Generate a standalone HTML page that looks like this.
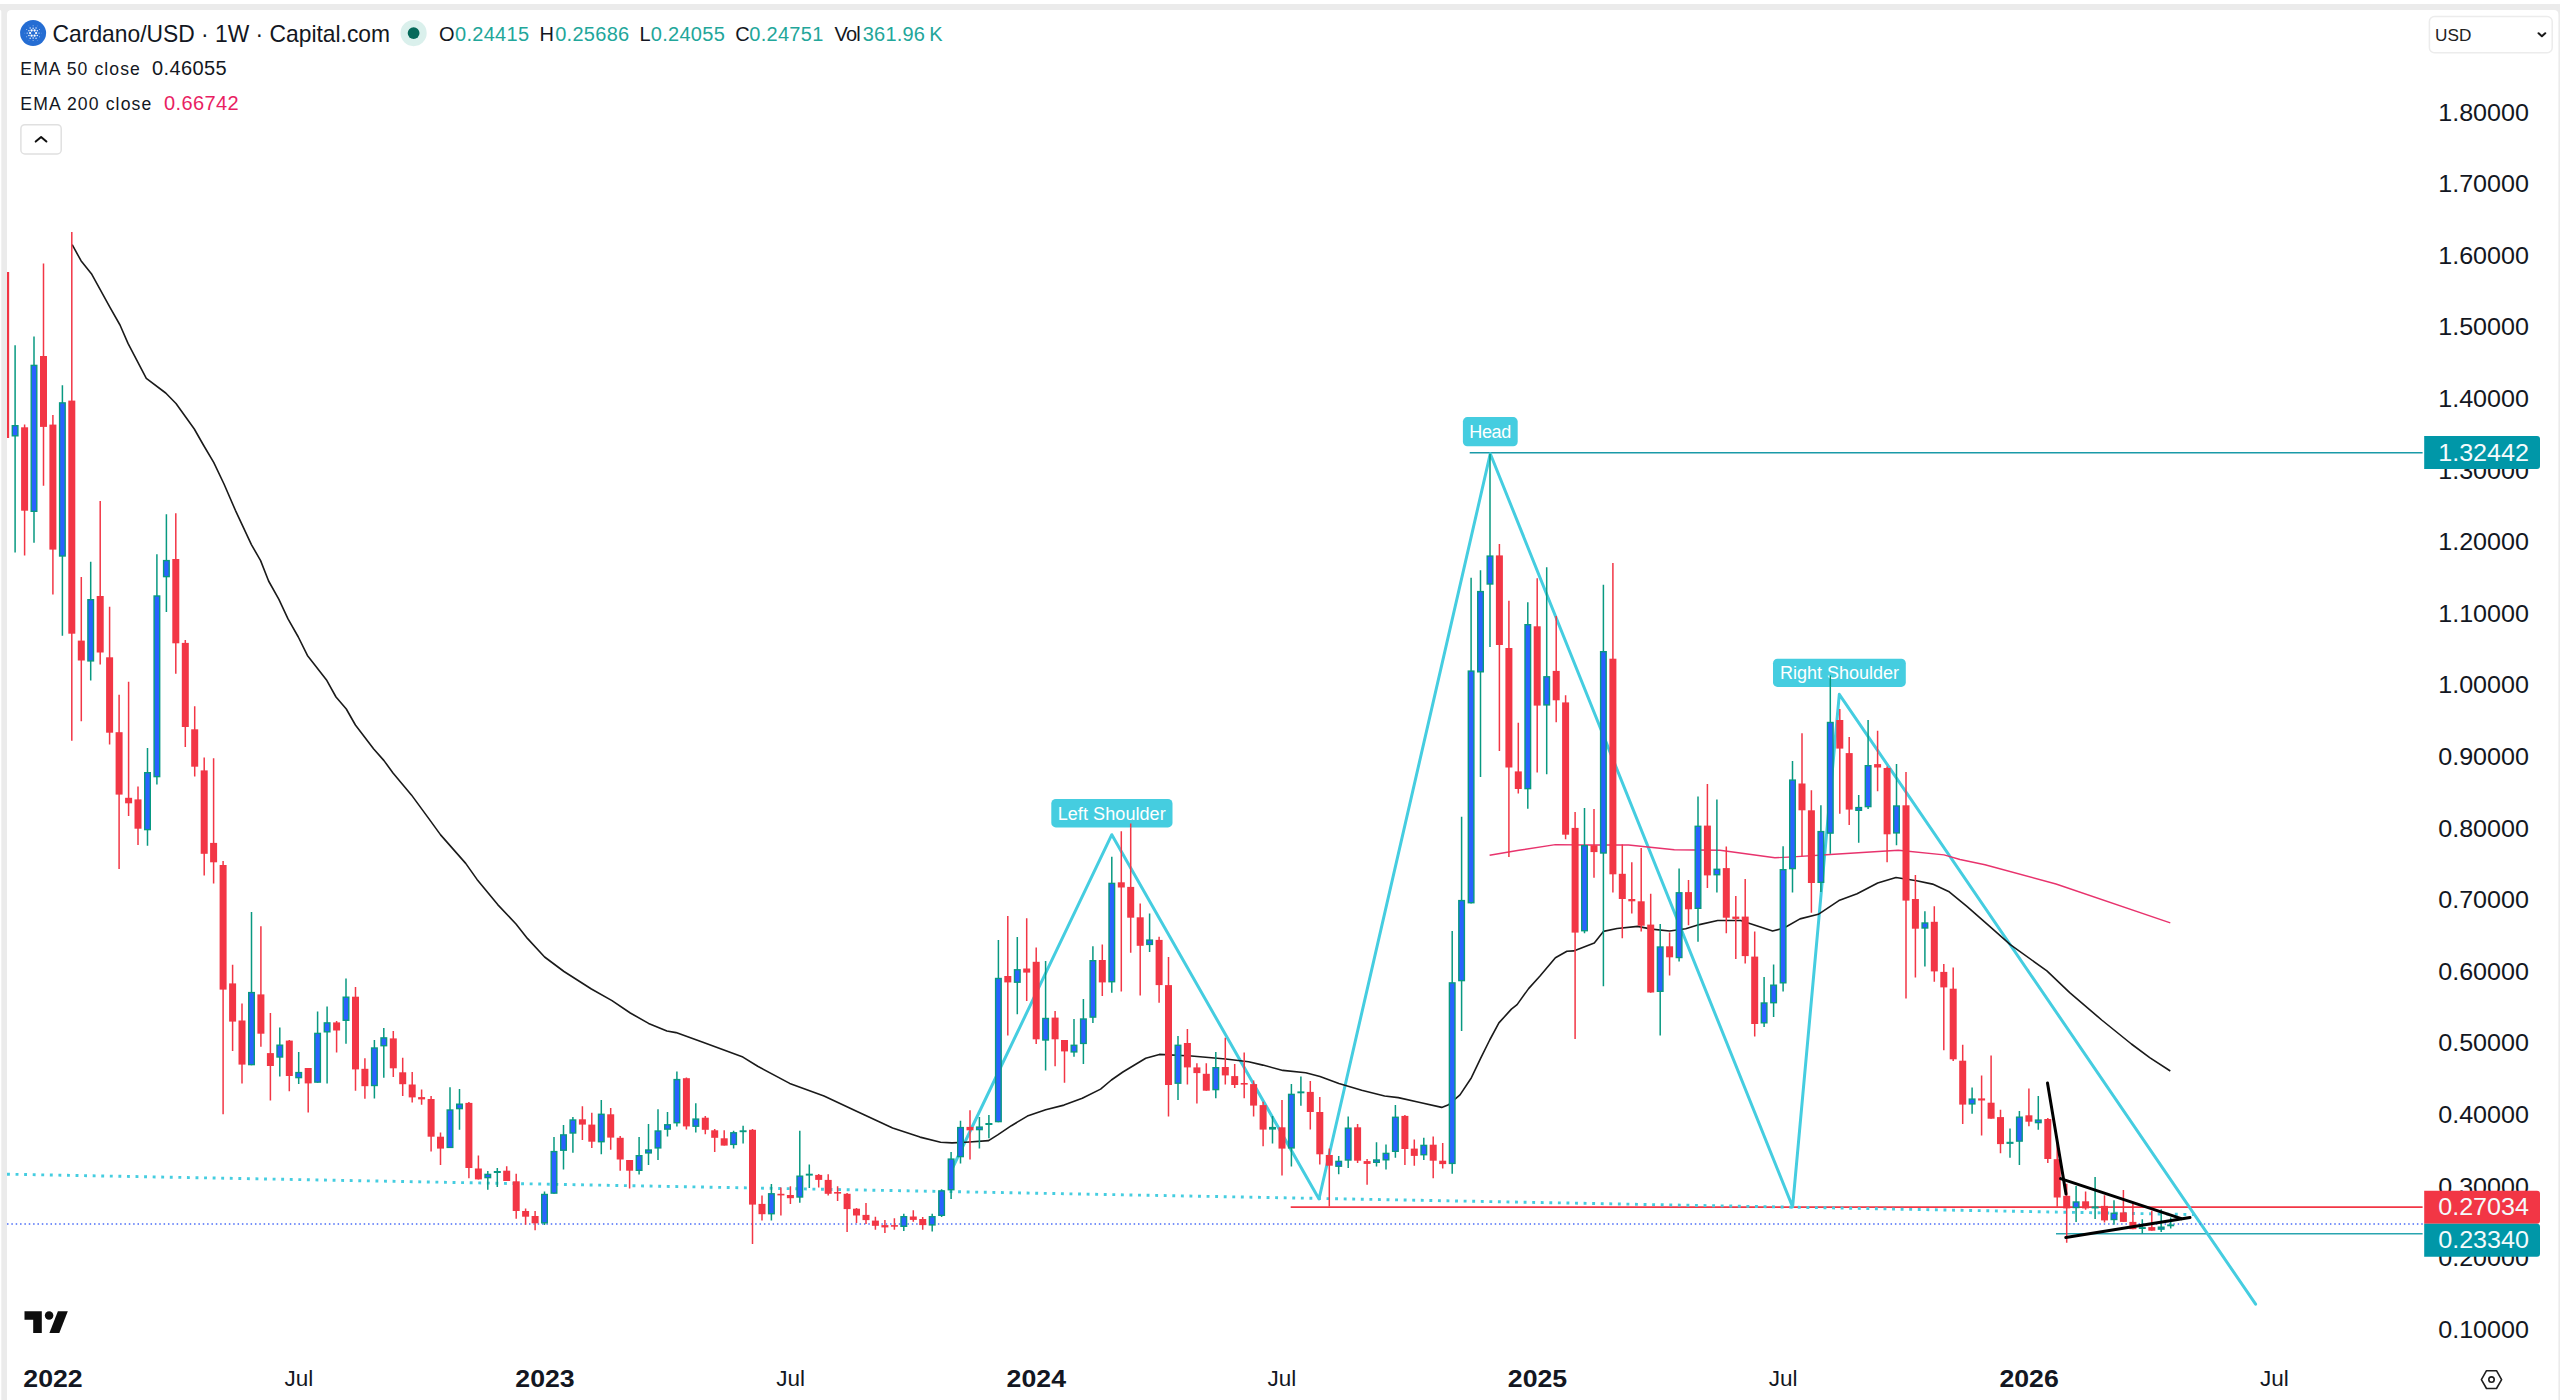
<!DOCTYPE html>
<html lang="en"><head><meta charset="utf-8"><title>Cardano/USD · 1W · Capital.com</title>
<style>html,body{margin:0;padding:0;background:#fff;}body{width:2560px;height:1400px;overflow:hidden;position:relative;font-family:"Liberation Sans",sans-serif;}svg{position:absolute;left:0;top:0;display:block}text{font-family:"Liberation Sans",sans-serif}</style>
</head><body>
<svg width="2560" height="1400" viewBox="0 0 2560 1400">
<rect x="0" y="0" width="2560" height="1400" fill="#ffffff"/>
<rect x="0" y="4" width="2560" height="1396" fill="#ebebeb"/>
<path d="M0 10 H0.2 Q1.3 10 1.3 11.5 V1400 H0 Z" fill="#ffffff"/>
<path d="M7 1400 V14.5 Q7 10 11.5 10 H2554 Q2558.4 10 2558.4 14.5 V1400 Z" fill="#ffffff"/>
<defs><clipPath id="cp"><rect x="7" y="10" width="2417" height="1340"/></clipPath></defs>
<g clip-path="url(#cp)">
<line x1="1469.7" y1="452.8" x2="2422.6" y2="452.8" stroke="#1a9aa8" stroke-width="1.5"/>
<line x1="1290.7" y1="1207.1" x2="2422.6" y2="1207.1" stroke="#f23645" stroke-width="1.6"/>
<line x1="2056" y1="1233.8" x2="2422.6" y2="1233.8" stroke="#2aa5b0" stroke-width="1.6"/>
<polyline points="953,1167 1111.8,834.7 1319,1199 1490.3,453.7 1792.6,1206.9 1839.3,694.3 2255.6,1304.2" fill="none" stroke="#45cde0" stroke-width="3" stroke-linejoin="round" stroke-linecap="round"/>
<line x1="7" y1="1174.2" x2="2194" y2="1214.6" stroke="#45cde0" stroke-width="2.9" stroke-dasharray="2.9 5.67"/>
<line x1="7" y1="1223.9" x2="2424" y2="1223.9" stroke="#4a6cf7" stroke-width="1.5" stroke-dasharray="1.5 2.85"/>
<polyline points="1489.6,855.3 1518.9,850.3 1555.4,844.6 1582.9,845 1628.6,845 1674.3,849.8 1720,850.3 1774.9,857.8 1788.6,857.1 1834.3,854.2 1898.3,850.3 1944,854.9 1960,859.5 1985,864.7 2056,884 2170.3,922.9" fill="none" stroke="#e8336d" stroke-width="1.4" stroke-linejoin="round"/>
<polyline points="72.2,244.7 81,260.7 91.4,273.7 109.7,306.9 120,325 128,343.4 146.3,378.4 165.7,393 176,403.5 194.3,429 203.4,445 213.7,462.3 224,484 235.4,510.3 251.4,544.6 260.6,560.6 268.6,581 278.9,599.4 288,618.9 298.3,637 307.4,655.4 326.9,680.6 336,697 346.3,709 355.4,725 373.7,749 384,760.6 393,773 411.4,794.9 429,818.9 440.6,834.9 465.7,863.4 477,879.4 497.7,904.6 516,924 527.4,938.4 544.6,957 564,971.5 591.4,989 612,1000.6 630.3,1013 648.6,1023.4 666.9,1031 676,1032.6 702.9,1042.3 742.9,1057.1 757.7,1066.3 789.7,1083.4 824,1096 856,1110.9 892.6,1128 920,1137.1 940.6,1142.2 952,1142.9 965.7,1142.2 988.6,1140.6 997.7,1134.9 1011.4,1125.7 1027.4,1116.1 1045.7,1109.7 1064,1105.1 1082.3,1098.3 1100.6,1089.1 1111.4,1080 1122.9,1072 1145.7,1058.3 1159.4,1054.4 1191.4,1056 1225.7,1059 1248.6,1061.7 1262.9,1065.1 1282.9,1070.4 1305.7,1072.7 1320,1076.6 1338.9,1083.4 1361.7,1090.3 1384.6,1096 1398.3,1097.6 1418.9,1102.2 1441.7,1107.4 1448.6,1104.7 1460,1094.9 1471.4,1077.7 1480.6,1058.3 1489.7,1040 1498.9,1022.9 1511.4,1009.1 1517.1,1004.6 1528.6,988.6 1540,976 1555.4,957.7 1566.9,951.3 1573.7,950.9 1594.3,942.9 1603.4,931.4 1617.1,928.5 1637.7,926.4 1651.4,929.1 1669.7,931 1685.7,928.7 1699.4,924.6 1717.7,920.5 1740.6,920.5 1756.6,925.7 1772.6,931 1784,928 1800,918.9 1818.3,914.3 1838.9,900.6 1857.1,893.7 1877.7,883 1896,877.5 1916.6,880.7 1932.6,884.1 1948.6,891.4 1966.9,906.3 1989.7,926.3 2010.3,944.6 2046.9,970.9 2069.7,992.6 2101.7,1020 2131.4,1044 2149.7,1057.7 2170.3,1071" fill="none" stroke="#1a1a1a" stroke-width="1.6" stroke-linejoin="round"/>
<rect x="2.15" y="272" width="7" height="166" fill="#f23645"/>
<path d="M24.6 424.6V555.5M43.5 263.4V485.8M52.9 415V594.4M71.8 232.1V740.7M81.3 577V721.3M100.2 501V664.6M109.6 606.7V744.6M119.1 694.7V869.1M128.6 681.7V815.9M138 786.4V845.1M175.8 513.3V673.7M185.3 640V746.9M194.7 706.2V776.6M204.2 757.6V875.5M213.6 758.3V883.5M223.1 861V1114.3M232.6 964.7V1050.9M242 1003.5V1083.5M260.9 926.3V1046.7M270.4 1013.1V1100.6M289.3 1040V1091.3M308.2 1068V1112.5M336.6 1021V1052.6M355.5 986.9V1090.8M364.9 1058.3V1098.8M393.3 1031V1077M402.7 1057.8V1096M412.2 1072V1102.4M421.6 1089.6V1104.7M431.1 1096V1151.5M440.5 1132.6V1165M468.9 1102V1178.3M478.4 1155.4V1179.4M506.7 1166.2V1181M516.2 1173.7V1218.7M525.6 1208.5V1224.7M535.1 1211V1230.2M582.4 1106.3V1139.9M591.8 1112.7V1147.9M610.7 1108.1V1149.7M620.2 1136V1170.7M629.6 1160V1188.6M686.4 1077.5V1129.6M705.3 1116V1134.2M714.7 1129V1152M724.2 1130.3V1145.6M752.5 1129V1244.1M762 1195.4V1220.6M780.9 1187.4V1215.5M790.4 1186.3V1204.1M818.7 1174V1187.4M828.2 1174.2V1195.4M837.6 1186.3V1201.1M847.1 1193V1232M856.5 1208V1222.9M866 1203V1224M875.4 1216.7V1229.7M884.9 1220.1V1233.1M894.4 1218.3V1229.7M913.3 1210.3V1221.7M922.7 1217.1V1229.7M970 1110.2V1159.5M1007.8 916.1V1035.4M1026.7 918.2V1001.1M1036.2 947.4V1043.9M1055.1 1011V1066.3M1064.5 1040V1082.7M1102.3 944.5V996.1M1121.3 831.3V991.5M1130.7 823.5V952.7M1140.2 903.5V995.4M1159.1 936.7V1002.7M1168.5 957V1116.6M1187.4 1029V1084.6M1196.9 1063.3V1103.5M1206.3 1063.3V1090.7M1225.3 1037.7V1084.6M1234.7 1064V1088M1244.2 1052.6V1098.3M1253.6 1080.5V1116.6M1263.1 1101.7V1146.3M1282 1100.1V1175.5M1310.3 1081.1V1129.6M1319.8 1097.1V1164.6M1329.3 1148.6V1206.4M1357.6 1124.1V1163M1367.1 1158.9V1184.7M1404.9 1115V1165M1414.3 1139.4V1165.7M1433.2 1136.5V1178.3M1442.7 1142.9V1168.5M1499.4 544V750.9M1508.9 600.7V857.1M1518.3 722.7V793.6M1537.2 578.3V772.6M1556.2 616V722.3M1565.6 695.3V839.3M1575.1 811.9V1038.9M1594 809.1V877.7M1612.9 563V892.6M1622.3 844.6V938.3M1631.8 862.2V913.6M1641.2 848V931.4M1650.7 893.7V992.7M1669.6 932.6V975.5M1688.5 880V925.3M1707.4 784V888M1726.3 846.4V933.3M1735.8 896V958.9M1745.2 878.9V963.4M1754.7 931.4V1036.6M1802 733.3V856.5M1811.4 790.2V912.7M1839.8 709V813.7M1849.2 737.1V825.1M1877.6 730.7V791.3M1887.1 766.4V862.2M1906 771.9V998.4M1915.4 875V977.4M1934.3 906.3V981.7M1943.8 964.1V1050.2M1953.2 967.4V1061.1M1962.7 1044.7V1124M1981.6 1075.5V1135.4M1991.1 1055.4V1118.7M2000.5 1109.8V1153.3M2028.9 1088.6V1126.3M2047.8 1118V1162.9M2057.2 1140.9V1206.7M2066.7 1183.8V1242.7M2085.6 1191.5V1209.8M2104.5 1195.2V1222.5M2123.4 1189.9V1221.9M2132.9 1203.8V1229.2M2151.8 1210.7V1230.7" stroke="#f23645" stroke-width="1.5" fill="none"/>
<path d="M15.1 345.3V552.6M34 336.6V542.7M62.4 385.3V635.8M90.7 561.7V680.6M147.5 748V845.8M156.9 554.2V784.6M166.4 514.2V612M251.5 912.1V1065.3M279.8 1027.5V1076.5M298.7 1052V1084M317.6 1011.4V1082.8M327.1 1006.4V1083.4M346 978.4V1043.7M374.4 1040V1098.6M383.8 1028V1077.7M450 1087.3V1148.1M459.5 1089.1V1129.8M487.8 1171V1189.7M497.3 1168V1187M544.5 1191.5V1225M554 1137.1V1193.8M563.5 1125V1169.6M572.9 1117V1152.7M601.3 1100.1V1154.3M639.1 1137.1V1174.4M648.5 1124.1V1165M658 1109.3V1160M667.5 1112V1136.5M676.9 1071.5V1126.4M695.8 1103.3V1132.6M733.6 1130.7V1148.6M743.1 1125.7V1143.5M771.4 1184V1220.6M799.8 1130.7V1202.7M809.3 1164.6V1187.9M903.8 1213.7V1230.9M932.2 1213.7V1231.5M941.6 1189.3V1217.1M951.1 1152V1198.9M960.5 1120.7V1163.4M979.4 1117V1148.6M988.9 1115V1138.3M998.4 940.1V1122.3M1017.3 937.1V1014.2M1045.6 961.1V1070.4M1074 1019V1056.7M1083.4 998.9V1064M1092.9 946.3V1022.9M1111.8 856.7V992.7M1149.6 913.6V952M1178 1036.1V1099.9M1215.8 1052.1V1098.3M1272.5 1116.1V1143.5M1291.4 1084.1V1166.4M1300.9 1076.6V1105.8M1338.7 1156.1V1174.2M1348.2 1116.6V1168M1376.5 1142.2V1166.4M1386 1144.5V1169.6M1395.4 1105.1V1157.7M1423.8 1137.8V1160M1452.2 931V1173.7M1461.6 816.7V1030.9M1471.1 577.8V903.4M1480.5 570.3V777.1M1490 453.7V646.9M1527.8 602.3V808.7M1546.7 567.3V774.2M1584.5 808V933.3M1603.4 584.7V986.3M1660.2 923.9V1035.4M1679.1 868.6V961.6M1698 796.6V941.7M1716.9 799.5V892.6M1764.1 977.1V1027M1773.6 964.6V1017.1M1783.1 846.2V991.5M1792.5 761.1V892.6M1820.9 805.3V892.1M1830.3 675.4V853.7M1858.7 795V842.7M1868.1 720V809.1M1896.5 764.1V845.3M1924.9 911.3V966.4M1972.1 1087.4V1113.7M2010 1128.6V1157.8M2019.4 1111V1165.1M2038.3 1096.1V1129.7M2076.1 1186.1V1221.9M2095.1 1176.9V1219M2114 1200.2V1224.8M2142.3 1219.3V1233.6M2161.2 1209.3V1231.9M2170.7 1217.6V1228.4" stroke="#089981" stroke-width="1.5" fill="none"/>
<g fill="#f23645"><rect x="21.1" y="427.3" width="7" height="83.4"/><rect x="40" y="356" width="7" height="70.9"/><rect x="49.4" y="424.6" width="7" height="125"/><rect x="68.3" y="400.6" width="7" height="233.1"/><rect x="77.8" y="640.6" width="7" height="19.9"/><rect x="96.7" y="596" width="7" height="56.5"/><rect x="106.1" y="657.3" width="7" height="75.4"/><rect x="115.6" y="732.2" width="7" height="62.4"/><rect x="125.1" y="797.8" width="7" height="5.5"/><rect x="134.5" y="799.4" width="7" height="29.3"/><rect x="172.3" y="559" width="7" height="84.3"/><rect x="181.8" y="642.9" width="7" height="84.1"/><rect x="191.2" y="729.3" width="7" height="37.4"/><rect x="200.7" y="770.4" width="7" height="83.4"/><rect x="210.1" y="842.9" width="7" height="19.4"/><rect x="219.6" y="865" width="7" height="124.6"/><rect x="229.1" y="983.4" width="7" height="38.2"/><rect x="238.5" y="1020.5" width="7" height="44.1"/><rect x="257.4" y="994.4" width="7" height="39.3"/><rect x="266.9" y="1053.1" width="7" height="12.9"/><rect x="285.8" y="1040.6" width="7" height="35.4"/><rect x="304.7" y="1068" width="7" height="15.4"/><rect x="333.1" y="1022.4" width="7" height="8.1"/><rect x="352" y="996.7" width="7" height="72.7"/><rect x="361.4" y="1068.8" width="7" height="17.4"/><rect x="389.8" y="1038.4" width="7" height="29.9"/><rect x="399.2" y="1072.3" width="7" height="11.9"/><rect x="408.7" y="1084.5" width="7" height="12.9"/><rect x="418.1" y="1097.1" width="7" height="2.3"/><rect x="427.6" y="1099" width="7" height="37.7"/><rect x="437" y="1136.7" width="7" height="11.9"/><rect x="465.4" y="1102.9" width="7" height="65.1"/><rect x="474.9" y="1168.5" width="7" height="10.9"/><rect x="503.2" y="1170.7" width="7" height="10.3"/><rect x="512.7" y="1181.3" width="7" height="29.7"/><rect x="522.1" y="1211" width="7" height="5.7"/><rect x="531.6" y="1216" width="7" height="7.3"/><rect x="578.9" y="1119.3" width="7" height="5.3"/><rect x="588.3" y="1124.6" width="7" height="17.1"/><rect x="607.2" y="1114.3" width="7" height="23.3"/><rect x="616.7" y="1137.8" width="7" height="21.7"/><rect x="626.1" y="1160" width="7" height="10.7"/><rect x="682.9" y="1078.2" width="7" height="48.2"/><rect x="701.8" y="1117.7" width="7" height="12.1"/><rect x="711.2" y="1130.3" width="7" height="7.5"/><rect x="720.7" y="1138.3" width="7" height="7.3"/><rect x="749" y="1129.8" width="7" height="74.8"/><rect x="758.5" y="1203.9" width="7" height="10.3"/><rect x="777.4" y="1193.8" width="7" height="1.6"/><rect x="786.9" y="1195" width="7" height="3.2"/><rect x="815.2" y="1174.9" width="7" height="5"/><rect x="824.7" y="1179.9" width="7" height="13.9"/><rect x="834.1" y="1192" width="7" height="1.6"/><rect x="843.6" y="1193.8" width="7" height="15.3"/><rect x="853" y="1208.7" width="7" height="6.8"/><rect x="862.5" y="1214.9" width="7" height="5.2"/><rect x="871.9" y="1220.6" width="7" height="5.2"/><rect x="881.4" y="1225.1" width="7" height="2.3"/><rect x="890.9" y="1225.1" width="7" height="1.6"/><rect x="909.8" y="1216.5" width="7" height="3.4"/><rect x="919.2" y="1219" width="7" height="6.1"/><rect x="966.5" y="1126.9" width="7" height="3.4"/><rect x="1004.3" y="976" width="7" height="6.4"/><rect x="1023.2" y="968.5" width="7" height="4.1"/><rect x="1032.7" y="961.8" width="7" height="77.5"/><rect x="1051.6" y="1017.6" width="7" height="21.7"/><rect x="1061" y="1040" width="7" height="11.4"/><rect x="1098.8" y="960" width="7" height="22.4"/><rect x="1117.8" y="882.3" width="7" height="5.2"/><rect x="1127.2" y="886.9" width="7" height="30.8"/><rect x="1136.7" y="917.3" width="7" height="28.5"/><rect x="1155.6" y="939.9" width="7" height="45.2"/><rect x="1165" y="985.1" width="7" height="99.9"/><rect x="1183.9" y="1043" width="7" height="24.4"/><rect x="1193.4" y="1067.4" width="7" height="5.7"/><rect x="1202.8" y="1073.8" width="7" height="16.9"/><rect x="1221.8" y="1067" width="7" height="8.4"/><rect x="1231.2" y="1076.1" width="7" height="8.9"/><rect x="1240.7" y="1083" width="7" height="1.6"/><rect x="1250.1" y="1084.1" width="7" height="21.5"/><rect x="1259.6" y="1105.1" width="7" height="24.5"/><rect x="1278.5" y="1127.3" width="7" height="21.3"/><rect x="1306.8" y="1091.9" width="7" height="20.1"/><rect x="1316.3" y="1112" width="7" height="42.3"/><rect x="1325.8" y="1155" width="7" height="10.7"/><rect x="1354.1" y="1127.3" width="7" height="33.4"/><rect x="1363.6" y="1161.1" width="7" height="2.8"/><rect x="1401.4" y="1115.9" width="7" height="33.1"/><rect x="1410.8" y="1148.6" width="7" height="7.3"/><rect x="1429.7" y="1144.7" width="7" height="16"/><rect x="1439.2" y="1160.7" width="7" height="3.4"/><rect x="1495.9" y="555.4" width="7" height="89.6"/><rect x="1505.4" y="648" width="7" height="119.5"/><rect x="1514.8" y="771.4" width="7" height="17.6"/><rect x="1533.7" y="626.3" width="7" height="79.3"/><rect x="1552.7" y="670.9" width="7" height="29.4"/><rect x="1562.1" y="702.4" width="7" height="132.3"/><rect x="1571.6" y="827.9" width="7" height="104.7"/><rect x="1590.5" y="845.3" width="7" height="6.8"/><rect x="1609.4" y="658.7" width="7" height="215.6"/><rect x="1618.8" y="873.8" width="7" height="25.2"/><rect x="1628.3" y="899" width="7" height="2.3"/><rect x="1637.7" y="901.3" width="7" height="24.4"/><rect x="1647.2" y="924.6" width="7" height="67.9"/><rect x="1666.1" y="946.3" width="7" height="11"/><rect x="1685" y="892.1" width="7" height="17.2"/><rect x="1703.9" y="825.6" width="7" height="49.8"/><rect x="1722.8" y="868.1" width="7" height="49.6"/><rect x="1732.3" y="916.6" width="7" height="2.3"/><rect x="1741.7" y="916.6" width="7" height="39.5"/><rect x="1751.2" y="956.6" width="7" height="67.4"/><rect x="1798.5" y="783.5" width="7" height="26.8"/><rect x="1807.9" y="810.3" width="7" height="72.7"/><rect x="1836.3" y="720" width="7" height="28.6"/><rect x="1845.7" y="753.1" width="7" height="56.5"/><rect x="1874.1" y="764.1" width="7" height="3.4"/><rect x="1883.6" y="768" width="7" height="66.3"/><rect x="1902.5" y="805.3" width="7" height="95.3"/><rect x="1911.9" y="899" width="7" height="29.7"/><rect x="1930.8" y="921.8" width="7" height="49.6"/><rect x="1940.3" y="971.9" width="7" height="15.5"/><rect x="1949.7" y="988.7" width="7" height="70.6"/><rect x="1959.2" y="1060.7" width="7" height="43.9"/><rect x="1978.1" y="1098.4" width="7" height="2.1"/><rect x="1987.6" y="1102.7" width="7" height="16"/><rect x="1997" y="1117.1" width="7" height="27"/><rect x="2025.4" y="1115.3" width="7" height="6.4"/><rect x="2044.3" y="1119" width="7" height="40"/><rect x="2053.7" y="1159.2" width="7" height="38.3"/><rect x="2063.2" y="1195.8" width="7" height="12.6"/><rect x="2082.1" y="1201.3" width="7" height="7.1"/><rect x="2101" y="1205.9" width="7" height="14.5"/><rect x="2119.9" y="1212.4" width="7" height="9.5"/><rect x="2129.4" y="1221.9" width="7" height="7.3"/><rect x="2148.3" y="1227.1" width="7" height="3.6"/></g>
<g fill="#2962ff" stroke="#089981" stroke-width="1.4"><rect x="12.3" y="425.7" width="5.6" height="10.1"/><rect x="31.2" y="365.4" width="5.6" height="145.9"/><rect x="59.6" y="402.9" width="5.6" height="153.1"/><rect x="87.9" y="599.7" width="5.6" height="61.2"/><rect x="144.7" y="772.7" width="5.6" height="56.9"/><rect x="154.1" y="596" width="5.6" height="180.6"/><rect x="163.6" y="560.6" width="5.6" height="16"/><rect x="248.7" y="992.6" width="5.6" height="72"/><rect x="277" y="1045.2" width="5.6" height="11.8"/><rect x="295.9" y="1072.6" width="5.6" height="5"/><rect x="314.8" y="1033.4" width="5.6" height="48.7"/><rect x="324.3" y="1022.9" width="5.6" height="8.9"/><rect x="343.2" y="997.2" width="5.6" height="23.1"/><rect x="371.6" y="1048" width="5.6" height="37.5"/><rect x="381" y="1037.9" width="5.6" height="7.8"/><rect x="447.2" y="1110" width="5.6" height="37.4"/><rect x="456.7" y="1104.2" width="5.6" height="4.4"/><rect x="485" y="1174.4" width="5.6" height="3.2"/><rect x="494.5" y="1171.7" width="5.6" height="0.6"/><rect x="541.7" y="1194.5" width="5.6" height="28.3"/><rect x="551.2" y="1151.6" width="5.6" height="41.5"/><rect x="560.7" y="1134.9" width="5.6" height="15.3"/><rect x="570.1" y="1120" width="5.6" height="13"/><rect x="598.5" y="1114.3" width="5.6" height="27.4"/><rect x="636.3" y="1155.7" width="5.6" height="14.6"/><rect x="645.7" y="1150" width="5.6" height="2.9"/><rect x="655.2" y="1131" width="5.6" height="16.9"/><rect x="664.7" y="1124.8" width="5.6" height="4.3"/><rect x="674.1" y="1079.6" width="5.6" height="43.1"/><rect x="693" y="1119.1" width="5.6" height="7.1"/><rect x="730.8" y="1132.8" width="5.6" height="11.6"/><rect x="740.3" y="1131" width="5.6" height="0.5"/><rect x="768.6" y="1193.8" width="5.6" height="19.9"/><rect x="797" y="1176.2" width="5.6" height="20.8"/><rect x="806.5" y="1174.4" width="5.6" height="0.5"/><rect x="901" y="1216.7" width="5.6" height="9.6"/><rect x="929.4" y="1216.7" width="5.6" height="8.2"/><rect x="938.8" y="1190.9" width="5.6" height="24.4"/><rect x="948.3" y="1159.1" width="5.6" height="30.6"/><rect x="957.7" y="1127.6" width="5.6" height="29"/><rect x="976.6" y="1127.1" width="5.6" height="2.5"/><rect x="986.1" y="1123.7" width="5.6" height="0.6"/><rect x="995.6" y="978.5" width="5.6" height="143.1"/><rect x="1014.5" y="969.8" width="5.6" height="12.4"/><rect x="1042.8" y="1018.5" width="5.6" height="21.5"/><rect x="1071.2" y="1045.3" width="5.6" height="6.6"/><rect x="1080.6" y="1019" width="5.6" height="24.4"/><rect x="1090.1" y="960.7" width="5.6" height="56.4"/><rect x="1109" y="883.4" width="5.6" height="98.3"/><rect x="1146.8" y="940.1" width="5.6" height="4.3"/><rect x="1175.2" y="1045.3" width="5.6" height="37.9"/><rect x="1213" y="1067.7" width="5.6" height="21.9"/><rect x="1269.7" y="1127.6" width="5.6" height="1.3"/><rect x="1288.6" y="1094.4" width="5.6" height="53.5"/><rect x="1298.1" y="1092.1" width="5.6" height="0.5"/><rect x="1335.9" y="1161.4" width="5.6" height="4.8"/><rect x="1345.4" y="1128.2" width="5.6" height="31.8"/><rect x="1373.7" y="1160" width="5.6" height="2.3"/><rect x="1383.2" y="1153.4" width="5.6" height="6.4"/><rect x="1392.6" y="1117.3" width="5.6" height="34"/><rect x="1421" y="1145.4" width="5.6" height="9.3"/><rect x="1449.4" y="982.9" width="5.6" height="180.5"/><rect x="1458.8" y="900.6" width="5.6" height="80"/><rect x="1468.3" y="671.1" width="5.6" height="231.6"/><rect x="1477.7" y="591.6" width="5.6" height="80.2"/><rect x="1487.2" y="556.1" width="5.6" height="27.9"/><rect x="1525" y="624.7" width="5.6" height="163.9"/><rect x="1543.9" y="676.8" width="5.6" height="28.1"/><rect x="1581.7" y="845.7" width="5.6" height="85"/><rect x="1600.6" y="651.7" width="5.6" height="201.3"/><rect x="1657.4" y="947" width="5.6" height="44.3"/><rect x="1676.3" y="892.8" width="5.6" height="64.7"/><rect x="1695.2" y="826.3" width="5.6" height="82"/><rect x="1714.1" y="869.3" width="5.6" height="5.4"/><rect x="1761.3" y="1003" width="5.6" height="19.8"/><rect x="1770.8" y="985.2" width="5.6" height="17.5"/><rect x="1780.3" y="869.7" width="5.6" height="113.1"/><rect x="1789.7" y="780.1" width="5.6" height="88.5"/><rect x="1818.1" y="831.6" width="5.6" height="50.7"/><rect x="1827.5" y="722.5" width="5.6" height="110.6"/><rect x="1855.9" y="807.6" width="5.6" height="2.7"/><rect x="1865.3" y="765.7" width="5.6" height="40.9"/><rect x="1893.7" y="806" width="5.6" height="26.9"/><rect x="1922.1" y="923" width="5.6" height="5"/><rect x="1969.3" y="1099.1" width="5.6" height="4.8"/><rect x="2007.2" y="1142.5" width="5.6" height="0.7"/><rect x="2016.6" y="1117.2" width="5.6" height="23.9"/><rect x="2035.5" y="1120.1" width="5.6" height="2.5"/><rect x="2073.3" y="1202" width="5.6" height="5.5"/><rect x="2092.3" y="1207.2" width="5.6" height="0.5"/><rect x="2111.2" y="1213.3" width="5.6" height="6.2"/><rect x="2139.5" y="1227.8" width="5.6" height="0.5"/><rect x="2158.4" y="1227.2" width="5.6" height="1.9"/><rect x="2167.9" y="1225.1" width="5.6" height="0.5"/></g>
<g stroke="#000" stroke-width="3" stroke-linecap="round" fill="none">
<line x1="2047.5" y1="1083" x2="2066" y2="1194"/>
<line x1="2060.6" y1="1178.6" x2="2181.4" y2="1218.7"/>
<line x1="2065.8" y1="1237.6" x2="2190" y2="1217.6"/>
</g>
<rect x="1051.3" y="798.9" width="121.2" height="28.5" rx="4.5" fill="#45cde0"/>
<text x="1057.7" y="819.5" font-size="18" fill="#fff" textLength="108" lengthAdjust="spacing">Left Shoulder</text>
<rect x="1462.9" y="417.1" width="54.8" height="29.1" rx="4.5" fill="#45cde0"/>
<text x="1469.3" y="438" font-size="18" fill="#fff" textLength="42" lengthAdjust="spacing">Head</text>
<rect x="1773" y="658.7" width="132.8" height="28.2" rx="4.5" fill="#45cde0"/>
<text x="1779.9" y="679.2" font-size="18" fill="#fff" textLength="119" lengthAdjust="spacing">Right Shoulder</text>
</g>
<line x1="1830.3" y1="675.4" x2="1830.3" y2="686.9" stroke="#089981" stroke-width="1.5"/>
<line x1="1130.7" y1="823.5" x2="1130.7" y2="827.5" stroke="#f23645" stroke-width="1.5"/>
<text x="2438.2" y="120.6" font-size="23.4" fill="#131722" textLength="90.8" lengthAdjust="spacingAndGlyphs">1.80000</text>
<text x="2438.2" y="192.2" font-size="23.4" fill="#131722" textLength="90.8" lengthAdjust="spacingAndGlyphs">1.70000</text>
<text x="2438.2" y="263.8" font-size="23.4" fill="#131722" textLength="90.8" lengthAdjust="spacingAndGlyphs">1.60000</text>
<text x="2438.2" y="335.4" font-size="23.4" fill="#131722" textLength="90.8" lengthAdjust="spacingAndGlyphs">1.50000</text>
<text x="2438.2" y="407" font-size="23.4" fill="#131722" textLength="90.8" lengthAdjust="spacingAndGlyphs">1.40000</text>
<text x="2438.2" y="478.6" font-size="23.4" fill="#131722" textLength="90.8" lengthAdjust="spacingAndGlyphs">1.30000</text>
<text x="2438.2" y="550.1" font-size="23.4" fill="#131722" textLength="90.8" lengthAdjust="spacingAndGlyphs">1.20000</text>
<text x="2438.2" y="621.7" font-size="23.4" fill="#131722" textLength="90.8" lengthAdjust="spacingAndGlyphs">1.10000</text>
<text x="2438.2" y="693.3" font-size="23.4" fill="#131722" textLength="90.8" lengthAdjust="spacingAndGlyphs">1.00000</text>
<text x="2438.2" y="764.9" font-size="23.4" fill="#131722" textLength="90.8" lengthAdjust="spacingAndGlyphs">0.90000</text>
<text x="2438.2" y="836.5" font-size="23.4" fill="#131722" textLength="90.8" lengthAdjust="spacingAndGlyphs">0.80000</text>
<text x="2438.2" y="908.1" font-size="23.4" fill="#131722" textLength="90.8" lengthAdjust="spacingAndGlyphs">0.70000</text>
<text x="2438.2" y="979.7" font-size="23.4" fill="#131722" textLength="90.8" lengthAdjust="spacingAndGlyphs">0.60000</text>
<text x="2438.2" y="1051.3" font-size="23.4" fill="#131722" textLength="90.8" lengthAdjust="spacingAndGlyphs">0.50000</text>
<text x="2438.2" y="1122.9" font-size="23.4" fill="#131722" textLength="90.8" lengthAdjust="spacingAndGlyphs">0.40000</text>
<text x="2438.2" y="1194.5" font-size="23.4" fill="#131722" textLength="90.8" lengthAdjust="spacingAndGlyphs">0.30000</text>
<text x="2438.2" y="1266" font-size="23.4" fill="#131722" textLength="90.8" lengthAdjust="spacingAndGlyphs">0.20000</text>
<text x="2438.2" y="1337.6" font-size="23.4" fill="#131722" textLength="90.8" lengthAdjust="spacingAndGlyphs">0.10000</text>
<path d="M2424.2 436 H2537 Q2540 436 2540 439 V466 Q2540 469 2537 469 H2424.2 Z" fill="#0097a8"/>
<text x="2438.2" y="460.5" font-size="23.4" fill="#f4fbfc" textLength="90.8" lengthAdjust="spacingAndGlyphs">1.32442</text>
<path d="M2424.2 1190.8 H2537 Q2540 1190.8 2540 1193.8 V1220.8 Q2540 1223.8 2537 1223.8 H2424.2 Z" fill="#f23645"/>
<text x="2438.2" y="1215.3" font-size="23.4" fill="#f4fbfc" textLength="90.8" lengthAdjust="spacingAndGlyphs">0.27034</text>
<path d="M2424.2 1223.8 H2537 Q2540 1223.8 2540 1226.8 V1253.7 Q2540 1256.7 2537 1256.7 H2424.2 Z" fill="#0097a8"/>
<text x="2438.2" y="1248.2" font-size="23.4" fill="#f4fbfc" textLength="90.8" lengthAdjust="spacingAndGlyphs">0.23340</text>
<text x="23.3" y="1386.6" font-size="23.5" font-weight="700" fill="#131722" textLength="59.4" lengthAdjust="spacingAndGlyphs">2022</text>
<text x="515.3" y="1386.6" font-size="23.5" font-weight="700" fill="#131722" textLength="59.4" lengthAdjust="spacingAndGlyphs">2023</text>
<text x="1006.6" y="1386.6" font-size="23.5" font-weight="700" fill="#131722" textLength="59.4" lengthAdjust="spacingAndGlyphs">2024</text>
<text x="1507.8" y="1386.6" font-size="23.5" font-weight="700" fill="#131722" textLength="59.4" lengthAdjust="spacingAndGlyphs">2025</text>
<text x="1999.4" y="1386.6" font-size="23.5" font-weight="700" fill="#131722" textLength="59.4" lengthAdjust="spacingAndGlyphs">2026</text>
<text x="298.8" y="1386.4" font-size="22.5" fill="#131722" text-anchor="middle">Jul</text>
<text x="790.6" y="1386.4" font-size="22.5" fill="#131722" text-anchor="middle">Jul</text>
<text x="1282" y="1386.4" font-size="22.5" fill="#131722" text-anchor="middle">Jul</text>
<text x="1783.1" y="1386.4" font-size="22.5" fill="#131722" text-anchor="middle">Jul</text>
<text x="2274.5" y="1386.4" font-size="22.5" fill="#131722" text-anchor="middle">Jul</text>
<path d="M2481.4 1379.6 L2486.5 1370.7 H2496.5 L2501.6 1379.6 L2496.5 1388.5 H2486.5 Z" fill="none" stroke="#1f1f1f" stroke-width="1.6" stroke-linejoin="round"/>
<circle cx="2491.5" cy="1379.6" r="2.7" fill="none" stroke="#1f1f1f" stroke-width="1.6"/>
<g fill="#0d0d0d"><path d="M24.5 1311.2H41.8V1332.9H33.2V1319.7H24.5Z"/><circle cx="49.1" cy="1315.4" r="4.25"/><path d="M57.9 1311.2H67.8L59.3 1332.9H49.4Z"/></g>
<circle cx="33.1" cy="33.1" r="13" fill="#256dd3"/>
<circle cx="36.10" cy="33.10" r="1.15" fill="#fff" fill-opacity="1"/><circle cx="34.60" cy="35.70" r="1.15" fill="#fff" fill-opacity="1"/><circle cx="31.60" cy="35.70" r="1.15" fill="#fff" fill-opacity="1"/><circle cx="30.10" cy="33.10" r="1.15" fill="#fff" fill-opacity="1"/><circle cx="31.60" cy="30.50" r="1.15" fill="#fff" fill-opacity="1"/><circle cx="34.60" cy="30.50" r="1.15" fill="#fff" fill-opacity="1"/><circle cx="37.26" cy="35.50" r="0.75" fill="#fff" fill-opacity="0.95"/><circle cx="33.10" cy="37.90" r="0.75" fill="#fff" fill-opacity="0.95"/><circle cx="28.94" cy="35.50" r="0.75" fill="#fff" fill-opacity="0.95"/><circle cx="28.94" cy="30.70" r="0.75" fill="#fff" fill-opacity="0.95"/><circle cx="33.10" cy="28.30" r="0.75" fill="#fff" fill-opacity="0.95"/><circle cx="37.26" cy="30.70" r="0.75" fill="#fff" fill-opacity="0.95"/><circle cx="39.00" cy="33.10" r="0.7" fill="#fff" fill-opacity="0.9"/><circle cx="36.05" cy="38.21" r="0.7" fill="#fff" fill-opacity="0.9"/><circle cx="30.15" cy="38.21" r="0.7" fill="#fff" fill-opacity="0.9"/><circle cx="27.20" cy="33.10" r="0.7" fill="#fff" fill-opacity="0.9"/><circle cx="30.15" cy="27.99" r="0.7" fill="#fff" fill-opacity="0.9"/><circle cx="36.05" cy="27.99" r="0.7" fill="#fff" fill-opacity="0.9"/><circle cx="39.51" cy="36.80" r="0.5" fill="#fff" fill-opacity="0.7"/><circle cx="33.10" cy="40.50" r="0.5" fill="#fff" fill-opacity="0.7"/><circle cx="26.69" cy="36.80" r="0.5" fill="#fff" fill-opacity="0.7"/><circle cx="26.69" cy="29.40" r="0.5" fill="#fff" fill-opacity="0.7"/><circle cx="33.10" cy="25.70" r="0.5" fill="#fff" fill-opacity="0.7"/><circle cx="39.51" cy="29.40" r="0.5" fill="#fff" fill-opacity="0.7"/><circle cx="41.40" cy="33.10" r="0.4" fill="#fff" fill-opacity="0.5"/><circle cx="37.25" cy="40.29" r="0.4" fill="#fff" fill-opacity="0.5"/><circle cx="28.95" cy="40.29" r="0.4" fill="#fff" fill-opacity="0.5"/><circle cx="24.80" cy="33.10" r="0.4" fill="#fff" fill-opacity="0.5"/><circle cx="28.95" cy="25.91" r="0.4" fill="#fff" fill-opacity="0.5"/><circle cx="37.25" cy="25.91" r="0.4" fill="#fff" fill-opacity="0.5"/>
<text x="52.6" y="42.4" font-size="23.6" fill="#131722" textLength="337.5" lengthAdjust="spacingAndGlyphs">Cardano/USD · 1W · Capital.com</text>
<circle cx="413.6" cy="33.1" r="13.1" fill="#daf0ec"/><circle cx="413.6" cy="33.1" r="5.9" fill="#06695a"/>
<text x="439" y="40.6" font-size="20" fill="#131722">O</text>
<text x="455" y="40.6" font-size="20" fill="#22a69a" textLength="74" lengthAdjust="spacing">0.24415</text>
<text x="539.5" y="40.6" font-size="20" fill="#131722">H</text>
<text x="555.2" y="40.6" font-size="20" fill="#22a69a" textLength="74" lengthAdjust="spacing">0.25686</text>
<text x="639.6" y="40.6" font-size="20" fill="#131722">L</text>
<text x="650.8" y="40.6" font-size="20" fill="#22a69a" textLength="74" lengthAdjust="spacing">0.24055</text>
<text x="735.2" y="40.6" font-size="20" fill="#131722">C</text>
<text x="749.3" y="40.6" font-size="20" fill="#22a69a" textLength="74" lengthAdjust="spacing">0.24751</text>
<text x="834.6" y="40.6" font-size="20" fill="#131722" textLength="26" lengthAdjust="spacing">Vol</text>
<text x="862.8" y="40.6" font-size="20" fill="#22a69a" textLength="62" lengthAdjust="spacing">361.96</text>
<text x="929.2" y="40.6" font-size="20" fill="#22a69a">K</text>
<text x="20.3" y="75" font-size="17.6" fill="#131722" textLength="119.5" lengthAdjust="spacing">EMA 50 close</text>
<text x="152" y="75" font-size="20" fill="#131722" textLength="74.5" lengthAdjust="spacing">0.46055</text>
<text x="20.3" y="109.5" font-size="17.6" fill="#131722" textLength="131" lengthAdjust="spacing">EMA 200 close</text>
<text x="164" y="109.5" font-size="20" fill="#e91e63" textLength="74.5" lengthAdjust="spacing">0.66742</text>
<rect x="20.9" y="124.7" width="40.3" height="29.2" rx="4" fill="#fff" stroke="#e0e0e0" stroke-width="1.5"/>
<path d="M35.7 141.6 L41.1 137 L46.4 141.5" fill="none" stroke="#0f0f0f" stroke-width="2" stroke-linecap="round" stroke-linejoin="round"/>
<rect x="2429.4" y="16.6" width="122.8" height="36.2" rx="5" fill="#fff" stroke="#ececec" stroke-width="1.5"/>
<text x="2435" y="41.1" font-size="17.2" fill="#222">USD</text>
<path d="M2538.6 33.3 L2541.9 36.2 L2545.2 33.3" fill="none" stroke="#1a1a1a" stroke-width="2.1" stroke-linecap="round" stroke-linejoin="round"/>
</svg>
</body></html>
